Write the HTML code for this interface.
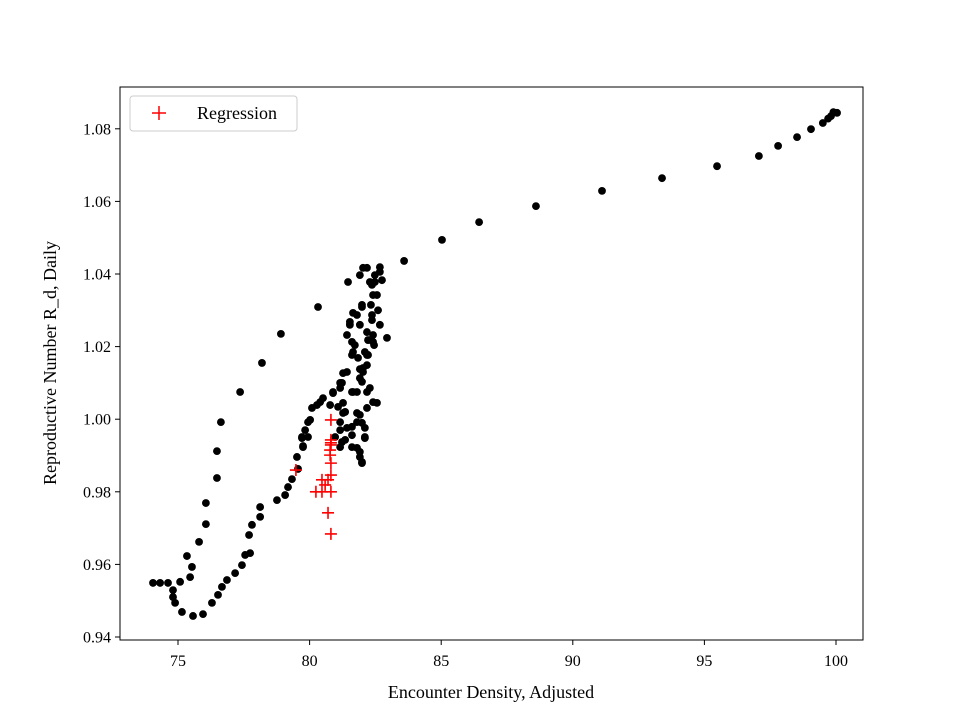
<!DOCTYPE html>
<html><head><meta charset="utf-8"><style>body{margin:0;background:#fff}svg{display:block;font-family:"Liberation Serif",serif}</style></head>
<body>
<svg id="chart" width="960" height="720" viewBox="0 0 960 720" xmlns="http://www.w3.org/2000/svg">
<rect x="0" y="0" width="960" height="720" fill="#fff"/>
<g id="marks"></g>
<rect x="120" y="87" width="743" height="553" fill="none" stroke="#000" stroke-width="1"/>
<g id="axes"></g>
<text x="491" y="698" font-size="18" text-anchor="middle">Encounter Density, Adjusted</text>
<text transform="translate(56,363) rotate(-90)" font-size="18" text-anchor="middle">Reproductive Number R_d, Daily</text>
<g>
<rect x="130" y="96" width="167" height="35" rx="3" fill="#fff" stroke="#ccc"/>
<path d="M152 113h14M159 106v14" stroke="red" stroke-width="1.5"/>
<text x="197" y="119" font-size="18">Regression</text>
</g>
</svg>
<script>
const xTicks=[75,80,85,90,95,100];
const yTicks=[0.94,0.96,0.98,1.00,1.02,1.04,1.06,1.08];
const yTickLabels=["0.94","0.96","0.98","1.00","1.02","1.04","1.06","1.08"];
const dataX=[100.04,99.81,99.5,99.05,98.52,97.8,97.07,95.48,93.39,91.11,88.6,86.44,85.03,83.59,80.32,78.91,78.19,77.36,76.63,76.48,76.48,76.06,76.06,75.8,75.34,
74.05,74.32,74.62,74.81,74.81,74.89,75.15,75.57,75.95,76.29,76.52,76.67,76.86,77.17,77.43,77.55,77.74,77.70,77.81,78.12,78.12,78.76,79.07,79.18,79.33,79.56,79.52,79.75,79.71,79.94,80.02,80.09,80.51,80.89,81.16,81.27,81.42,81.23,81.65,81.91,82.03,82.22,82.10,81.72,81.61,81.42,81.53,81.80,81.99,81.91,82.18,82.41,82.67,82.94,82.56,82.48,82.67,82.67,82.18,81.91,81.46,
82.29,82.56,82.18,81.91,82.10,82.10,81.80,81.61,81.42,81.16,81.23,80.97,81.16,81.80,81.61,81.35,81.08,81.91,81.99,75.08,75.46,75.53,80.78,80.40,82.6,82.37,99.9,99.7,
82.48,82.37,82.41,82.33,82.37,82.41,82.45,82.22,81.99,81.65,81.53,81.61,81.65,81.84,82.18,82.18,82.03,82.03,82.29,82.75,81.16,80.89,80.28,79.94,79.83,79.71,79.75,81.91,81.99,82.18,82.41,81.80,81.27,81.27,81.80,81.99,81.16,81.35,81.61,81.91,81.99,82.10,81.61];
const dataY=[1.0844,1.0835,1.0816,1.0799,1.0777,1.0753,1.0725,1.0697,1.0664,1.0629,1.0587,1.0543,1.0494,1.0436,1.0309,1.0235,1.0155,1.0075,0.9992,0.9912,0.9838,0.9769,0.9711,0.9662,0.9623,
0.9549,0.9549,0.9549,0.9529,0.9510,0.9494,0.9469,0.9458,0.9463,0.9494,0.9516,0.9538,0.9557,0.9576,0.9598,0.9626,0.9631,0.9681,0.9709,0.9731,0.9758,0.9777,0.9791,0.9813,0.9835,0.9863,0.9896,0.9926,0.9951,0.9951,0.9998,1.0031,1.0058,1.0075,1.0086,1.0127,1.0130,1.0100,1.0075,1.0113,1.0141,1.0177,1.0185,1.0204,1.0177,1.0232,1.0260,1.0287,1.0309,1.0260,1.0240,1.0213,1.0260,1.0224,1.0342,1.0378,1.0406,1.0419,1.0417,1.0397,1.0378,
1.0086,1.0045,1.0031,1.0012,0.9976,0.9948,0.9992,0.9956,0.9976,0.9992,0.9937,0.9951,0.9923,0.9921,1.0075,1.0020,1.0034,0.9910,0.9882,0.9552,0.9565,0.9593,1.0039,1.0047,1.0300,1.0273,1.0846,1.0828,
1.0397,1.0370,1.0342,1.0315,1.0287,1.0232,1.0204,1.0218,1.0315,1.0293,1.0268,1.0213,1.0185,1.0169,1.0177,1.0149,1.0130,1.0417,1.0378,1.0383,1.0100,1.0072,1.0039,0.9992,0.9970,0.9948,0.9923,1.0138,1.0103,1.0075,1.0047,1.0075,1.0045,1.0017,1.0017,0.9990,0.9970,0.9943,0.9923,0.9896,0.9879,0.9951,0.9979];
const regX=[80.81,80.81,80.81,80.78,80.81,80.81,80.81,80.70,80.81,80.47,80.24,80.59,80.47,79.48,80.78,80.70,80.81];
const regY=[0.9998,0.9943,0.9929,0.9915,0.9879,0.9846,0.9800,0.9742,0.9684,0.9833,0.9800,0.9819,0.9800,0.9860,0.9901,0.9833,0.9935];
const NS="http://www.w3.org/2000/svg";
function sx(v){return 178+(v-75)*26.32;}
function sy(v){return 637-(v-0.94)*3630;}
const marks=document.getElementById('marks'),axes=document.getElementById('axes');
function mk(tag,at,parent){const e=document.createElementNS(NS,tag);for(const k in at)e.setAttribute(k,at[k]);parent.appendChild(e);return e;}
for(let i=0;i<dataX.length;i++){
 const c=mk('circle',{cx:sx(dataX[i]),cy:sy(dataY[i]),r:3.9,fill:'#000'},marks);
 
 
}
for(let i=0;i<regX.length;i++){
 const x=sx(regX[i]),y=sy(regY[i]);
 const p=mk('path',{d:`M${x-6} ${y}h12M${x} ${y-6}v12`,stroke:'red','stroke-width':1.6},marks);
 
 
}
xTicks.forEach(t=>{const x=sx(t);
 const l=mk('line',{x1:x,x2:x,y1:640,y2:645,stroke:'#000'},axes);
 
 
 const tx=mk('text',{x:x,y:666,'font-size':16,'text-anchor':'middle'},axes);tx.textContent=t;
 
 
});
yTicks.forEach((t,i)=>{const y=sy(t);
 const l=mk('line',{x1:115,x2:120,y1:y,y2:y,stroke:'#000'},axes);
 
 
 const tx=mk('text',{x:111,y:y+5.5,'font-size':16,'text-anchor':'end'},axes);tx.textContent=yTickLabels[i];
 
 
});
</script>
</body></html>
